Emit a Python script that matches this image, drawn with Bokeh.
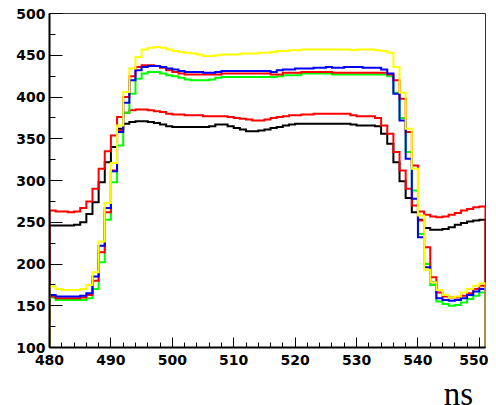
from bokeh.plotting import figure
from bokeh.layouts import column
from bokeh.models import SingleIntervalTicker, Range1d
from bokeh.core.properties import value
from bokeh.embed import file_html
from bokeh.resources import INLINE

# ---- data: one value per 1 ns bin, bins start at 480 ns ----
x_start = 480
bin_width = 1
x_end = 551
y_min = 100
y_max = 500
x_title = "ns"

black = [246, 246, 246, 246, 247, 250, 260, 274, 298, 322,
         340, 362, 368, 370, 371, 371, 370, 369, 367, 365,
         364, 364, 364, 364, 364, 364, 365, 367, 367, 365,
         363, 361, 359, 359, 360, 361, 363, 364, 366, 367,
         368, 368, 368, 368, 368, 368, 368, 368, 368, 367,
         366, 366, 366, 365, 356, 344, 322, 299, 279, 262,
         253, 243, 241, 241, 242, 244, 247, 249, 251, 252, 253]

red_low = [264, 263, 263, 262, 263, 267, 275, 290, 314, 335,
           354, 376, 381, 384, 385, 385, 384, 383, 382, 380,
           379, 379, 378, 378, 378, 377, 377, 377, 377, 376,
           375, 374, 373, 372, 372, 373, 375, 376, 377, 378,
           378, 379, 379, 380, 380, 380, 380, 380, 380, 378,
           377, 377, 377, 375, 366, 356, 334, 312, 290, 270,
           263, 259, 257, 256, 257, 259, 261, 264, 266, 268, 269]

green = [160, 157, 157, 157, 157, 157, 159, 170, 202, 253,
         298, 342, 381, 404, 422, 428, 430, 430, 428, 426,
         425, 423, 421, 420, 420, 420, 421, 423, 424, 424,
         424, 424, 424, 424, 424, 424, 424, 425, 426, 426,
         426, 428, 428, 428, 428, 428, 427, 427, 427, 427,
         427, 427, 427, 427, 427, 425, 405, 375, 334, 288,
         236, 200, 175, 155, 152, 150, 151, 154, 158, 162, 166]

red_high = [161, 159, 159, 159, 159, 160, 163, 180, 214, 262,
            312, 360, 400, 425, 436, 438, 438, 437, 435, 432,
            430, 428, 427, 427, 427, 427, 427, 427, 428, 428,
            428, 428, 428, 428, 428, 428, 427, 427, 429, 429,
            429, 430, 430, 430, 430, 430, 429, 429, 429, 429,
            429, 429, 429, 429, 429, 427, 420, 398, 358, 318,
            252, 220, 184, 166, 161, 160, 160, 162, 165, 170, 174]

blue = [163, 161, 161, 161, 161, 162, 165, 185, 222, 267,
        311, 358, 393, 420, 432, 436, 437, 437, 436, 434,
        433, 431, 430, 430, 430, 429, 429, 430, 431, 431,
        431, 431, 431, 431, 431, 431, 430, 432, 433, 433,
        434, 434, 434, 435, 435, 436, 435, 435, 436, 436,
        436, 435, 435, 435, 433, 428, 404, 372, 326, 278,
        232, 196, 178, 159, 157, 156, 157, 159, 163, 167, 170]

yellow = [173, 170, 169, 169, 169, 170, 175, 190, 227, 273,
          321, 366, 406, 434, 448, 457, 459, 460, 459, 457,
          455, 454, 453, 452, 451, 449, 449, 450, 451, 451,
          451, 452, 452, 452, 453, 453, 454, 455, 455, 456,
          456, 457, 457, 457, 457, 457, 457, 457, 457, 456,
          457, 457, 457, 456, 455, 453, 436, 405, 362, 314,
          258, 193, 178, 169, 163, 160, 161, 166, 170, 174, 177]

series = [(black, "#000000"), (red_low, "#ff0000"), (green, "#00ff00"),
          (red_high, "#ff0000"), (blue, "#0000ff"), (yellow, "#ffff00")]

tick_font = "DejaVu Sans"


def step_path(vals, base):
    xs = [x_start]
    ys = [base]
    for i, v in enumerate(vals):
        x0 = x_start + i * bin_width
        xs += [x0, x0 + bin_width]
        ys += [v, v]
    xs.append(x_start + len(vals) * bin_width)
    ys.append(base)
    return xs, ys


xr = Range1d(x_start, x_end)

p = figure(width=488, height=372, output_backend="svg", toolbar_location=None,
           x_range=xr, y_range=Range1d(y_min, y_max),
           min_border_left=49, min_border_right=3, min_border_top=13,
           min_border_bottom=25)
p.background_fill_color = "white"
p.border_fill_color = "white"
p.outline_line_color = "#333333"
p.outline_line_width = 1
p.xgrid.visible = False
p.ygrid.visible = False

for vals, col in series:
    xs, ys = step_path(vals, y_min)
    p.line(xs, ys, line_color=col, line_width=2, line_join="miter")

p.xaxis.ticker = SingleIntervalTicker(interval=10, num_minor_ticks=5)
p.yaxis.ticker = SingleIntervalTicker(interval=50, num_minor_ticks=2)

for ax in (p.xaxis[0], p.yaxis[0]):
    ax.axis_line_width = 2
    ax.axis_line_color = "black"
    ax.major_tick_line_color = "black"
    ax.minor_tick_line_color = "black"
    ax.major_tick_out = 0
    ax.minor_tick_out = 0
    ax.major_label_text_font = tick_font
    ax.major_label_text_font_style = "bold"
    ax.major_label_text_font_size = "14px"
    ax.major_label_text_color = "black"

p.xaxis.major_tick_in = 10
p.xaxis.minor_tick_in = 5
p.xaxis.major_label_standoff = 7
p.yaxis.major_tick_in = 13
p.yaxis.minor_tick_in = 6
p.yaxis.major_label_standoff = 4

# strip below the main plot that carries the axis title "ns"
p2 = figure(width=488, height=40, output_backend="svg", toolbar_location=None,
            x_range=xr, y_range=Range1d(0, 1),
            min_border_left=49, min_border_right=3, min_border_top=0,
            min_border_bottom=0)
p2.axis.visible = False
p2.xgrid.visible = False
p2.ygrid.visible = False
p2.outline_line_color = None
p2.background_fill_color = "white"
p2.border_fill_color = "white"
p2.text(x=[544.2], y=[0.47], text=[x_title], text_font=value("Liberation Serif"),
        text_font_size="33px", text_color="black", text_baseline="alphabetic",
        text_align="left")

layout = column(p, p2, spacing=0)
open("out.html", "w").write(file_html(layout, INLINE))
